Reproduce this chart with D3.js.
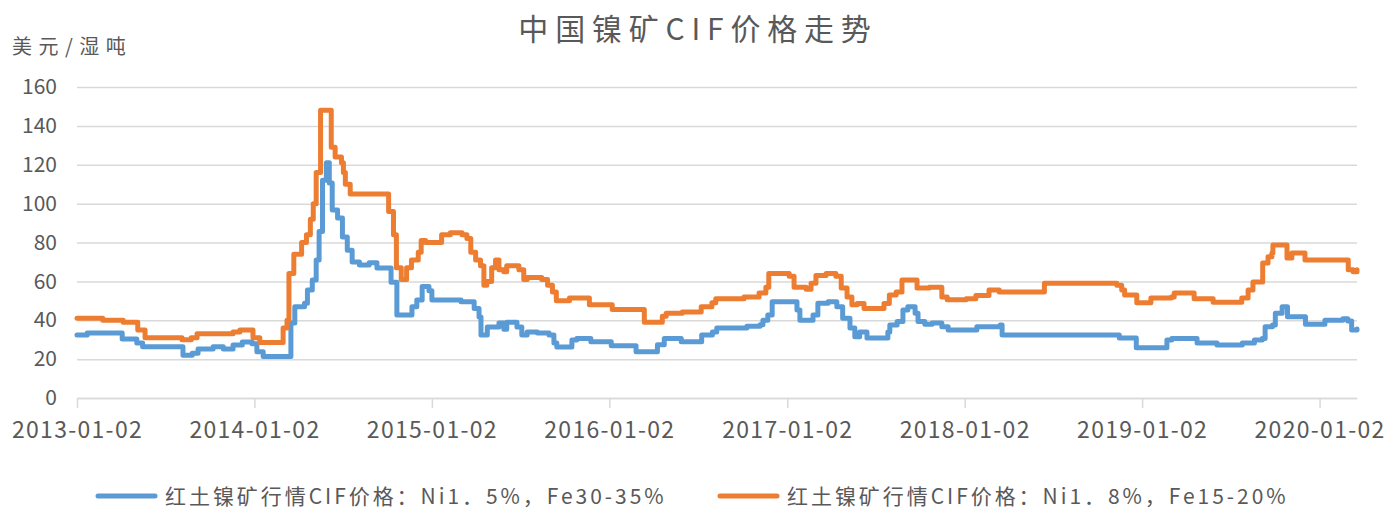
<!DOCTYPE html>
<html>
<head>
<meta charset="utf-8">
<script src="https://cdn.jsdelivr.net/npm/d3@7"></script>
<style>
	body { margin: 0; background: #fff; }
	svg text { font-family: "Noto Sans CJK SC", "Noto Sans", sans-serif; fill: #595959; }
</style>
</head>
<body>
<div id="viz"></div>
<script>
const WIDTH = 1390;
const HEIGHT = 509;
const MARGIN = { left: 77, right: 33, top: 87, bottom: 111 };
const BLUE = '#5b9bd5';
const ORANGE = '#ed7d31';
const GRID = '#d9d9d9';

const title = '中国镍矿CIF价格走势';
const unitLabel = '美元/湿吨';
const seriesNames = ['红土镍矿行情CIF价格：Ni1．5%，Fe30-35%', '红土镍矿行情CIF价格：Ni1．8%，Fe15-20%'];
const yTicks = [0, 20, 40, 60, 80, 100, 120, 140, 160];
const xTickLabels = ['2013-01-02', '2014-01-02', '2015-01-02', '2016-01-02', '2017-01-02', '2018-01-02', '2019-01-02', '2020-01-02'];
const xDomain = ['2013-01-02', '2020-03-19'];

// Ni1.5% Fe30-35%, change points
const blueDates = [
	'2013-01-02', '2013-01-23', '2013-04-05', '2013-05-05', '2013-05-17', '2013-08-08', '2013-08-27', '2013-09-08',
	'2013-10-09', '2013-10-30', '2013-11-19', '2013-12-08', '2013-12-28', '2014-01-07', '2014-01-20', '2014-03-18',
	'2014-03-26', '2014-04-15', '2014-04-21', '2014-05-01', '2014-05-09', '2014-05-15', '2014-05-22', '2014-05-30',
	'2014-06-05', '2014-06-11', '2014-06-22', '2014-07-02', '2014-07-12', '2014-07-22', '2014-08-06', '2014-08-26',
	'2014-09-11', '2014-10-10', '2014-10-22', '2014-11-22', '2014-12-02', '2014-12-13', '2014-12-27', '2015-01-02',
	'2015-03-03', '2015-03-30', '2015-04-09', '2015-04-13', '2015-04-26', '2015-05-20', '2015-05-30', '2015-06-05',
	'2015-06-26', '2015-07-06', '2015-07-17', '2015-08-07', '2015-08-31', '2015-09-10', '2015-09-16', '2015-10-17',
	'2015-10-27', '2015-11-25', '2016-01-06', '2016-02-26', '2016-04-10', '2016-04-24', '2016-05-29', '2016-07-10',
	'2016-08-01', '2016-08-10', '2016-10-11', '2016-11-07', '2016-11-13', '2016-11-23', '2016-12-02', '2017-01-22',
	'2017-01-28', '2017-02-24', '2017-03-06', '2017-03-27', '2017-04-14', '2017-04-26', '2017-05-11', '2017-05-21',
	'2017-05-31', '2017-06-15', '2017-07-28', '2017-08-01', '2017-08-16', '2017-08-28', '2017-09-07', '2017-09-22',
	'2017-09-28', '2017-10-12', '2017-10-27', '2017-11-16', '2017-11-29', '2018-01-27', '2018-03-16', '2018-03-20',
	'2018-11-16', '2018-12-21', '2019-02-22', '2019-03-04', '2019-04-25', '2019-06-05', '2019-07-27', '2019-08-21',
	'2019-09-06', '2019-09-12', '2019-09-27', '2019-10-03', '2019-10-17', '2019-10-28', '2019-12-04', '2020-01-13',
	'2020-02-19', '2020-02-29', '2020-03-08', '2020-03-19'
];
const blueValues = [
	32.4, 33.4, 30.4, 28.3, 26.4, 22, 23, 25.2,
	26.4, 25.2, 27.3, 28.8, 27.9, 23.8, 21.3, 38.6,
	47, 48.8, 55.6, 60.7, 71, 85.6, 112, 121,
	110.6, 96.7, 92.6, 82.8, 76, 70, 68.4, 69.6,
	66.9, 59.5, 42.7, 47, 50.4, 57.3, 55.2, 50.4,
	49.5, 46, 41.7, 32.4, 36.5, 38.6, 35.4, 39,
	36.5, 32.4, 34, 33.4, 32.4, 28.3, 26.2, 29.8,
	30.6, 29, 26.9, 23.8, 27.4, 30.6, 29, 32.4,
	34, 36, 36.9, 37.7, 40, 42.7, 49.5, 45.3,
	40, 42.7, 48.8, 49.5, 47, 41, 36, 31.5,
	34, 30.9, 34, 37.6, 39.3, 45.3, 47, 43.6,
	39.3, 38, 38.6, 36.7, 35, 36.7, 37.6, 32.4,
	30.9, 25.9, 29.8, 30.6, 28.3, 27.3, 28.3, 29.8,
	30.6, 36.7, 37.6, 43.6, 46.9, 41.8, 38, 40,
	40.8, 39.6, 35, 35.5
];

// Ni1.8% Fe15-20%, change points
const orangeDates = [
	'2013-01-02', '2013-02-24', '2013-04-07', '2013-05-07', '2013-05-22', '2013-08-06', '2013-08-25', '2013-09-06',
	'2013-11-19', '2013-12-03', '2013-12-30', '2014-01-13', '2014-03-02', '2014-03-10', '2014-03-14', '2014-03-24',
	'2014-04-09', '2014-04-19', '2014-04-27', '2014-05-03', '2014-05-09', '2014-05-18', '2014-06-09', '2014-06-17',
	'2014-06-30', '2014-07-04', '2014-07-08', '2014-07-18', '2014-10-05', '2014-10-15', '2014-10-21', '2014-10-31',
	'2014-11-11', '2014-11-21', '2014-12-05', '2014-12-11', '2014-12-20', '2015-01-22', '2015-02-09', '2015-03-05',
	'2015-03-15', '2015-03-23', '2015-04-02', '2015-04-12', '2015-04-19', '2015-04-25', '2015-05-05', '2015-05-13',
	'2015-05-20', '2015-05-30', '2015-06-05', '2015-06-30', '2015-07-10', '2015-07-17', '2015-08-16', '2015-08-28',
	'2015-09-07', '2015-09-15', '2015-10-12', '2015-11-22', '2016-01-08', '2016-03-14', '2016-04-20', '2016-04-28',
	'2016-05-31', '2016-07-09', '2016-07-31', '2016-08-08', '2016-10-05', '2016-11-05', '2016-11-19', '2016-11-25',
	'2017-01-06', '2017-01-16', '2017-02-10', '2017-02-20', '2017-03-02', '2017-03-23', '2017-04-12', '2017-04-23',
	'2017-05-05', '2017-05-15', '2017-05-26', '2017-06-09', '2017-07-20', '2017-07-31', '2017-08-14', '2017-08-26',
	'2017-09-26', '2017-10-21', '2017-11-16', '2017-11-27', '2018-01-05', '2018-01-25', '2018-02-21', '2018-03-14',
	'2018-06-15', '2018-11-11', '2018-11-21', '2018-11-27', '2018-12-22', '2019-01-20', '2019-03-03', '2019-03-09',
	'2019-04-19', '2019-05-28', '2019-07-26', '2019-08-08', '2019-08-18', '2019-09-07', '2019-09-18', '2019-09-26',
	'2019-09-28', '2019-10-27', '2019-11-06', '2019-12-03', '2020-03-01', '2020-03-11', '2020-03-19'
];
const orangeValues = [
	41, 40, 39, 35, 31, 30, 31, 33,
	34, 35, 31, 28.5, 36, 40, 64, 74,
	80, 84, 92, 100, 116, 148, 129, 124,
	121, 116, 110, 105, 96, 84, 67, 61,
	67, 71, 75, 81, 80, 84, 85, 84,
	82, 75, 71, 68, 58, 60, 67, 71,
	66, 65, 68, 66, 61, 62, 61, 58,
	54.5, 50, 51.5, 48, 45.5, 39, 42, 43.6,
	44.3, 47, 49, 51, 52, 54, 57, 64,
	62.6, 57, 56, 59, 63, 64, 62.6, 56.6,
	52, 48, 48.6, 46, 48.6, 53, 54.5, 60.7,
	56.6, 57, 52, 50.5, 51, 52.7, 55.5, 54.5,
	59, 58, 55.6, 53, 49, 51.4, 52, 54,
	51, 49.2, 51.4, 55.6, 59.7, 69.5, 72.7, 74.6,
	78.7, 72, 74.6, 71, 66, 65, 66
];

const parseDate = d3.timeParse('%Y-%m-%d');
const toPoints = (dates, values) => dates.map((d, i) => ({ date: parseDate(d), value: values[i] }));

const series = [
	{ name: seriesNames[0], color: BLUE, data: toPoints(blueDates, blueValues) },
	{ name: seriesNames[1], color: ORANGE, data: toPoints(orangeDates, orangeValues) }
];

const chartWidth = WIDTH - MARGIN.left - MARGIN.right;
const chartHeight = HEIGHT - MARGIN.top - MARGIN.bottom;

const svg = d3.select('#viz').append('svg')
	.attr('width', WIDTH)
	.attr('height', HEIGHT);

svg.append('text')
	.attr('x', WIDTH / 2 + 3)
	.attr('y', 40)
	.attr('text-anchor', 'middle')
	.style('font-size', '30px')
	.style('letter-spacing', '6.8px')
	.text(title);

svg.append('text')
	.attr('x', 12)
	.attr('y', 54)
	.style('font-size', '20px')
	.style('letter-spacing', '6.5px')
	.text(unitLabel);

const xScale = d3.scaleTime()
	.domain(xDomain.map(parseDate))
	.range([0, chartWidth]);

const yScale = d3.scaleLinear()
	.domain([0, 160])
	.range([chartHeight, 0]);

const container = svg.append('g')
	.attr('transform', 'translate(' + MARGIN.left + ',' + MARGIN.top + ')');

// gridlines + y labels
const yAxis = container.append('g')
	.attr('class', 'y axis')
	.call(d3.axisLeft(yScale).tickValues(yTicks).tickSize(-chartWidth).tickPadding(20));
yAxis.select('.domain').remove();
yAxis.selectAll('.tick line').attr('stroke', GRID).attr('stroke-width', 1.5);
yAxis.selectAll('.tick text').style('font-size', '21px').attr('fill', '#595959');

const xAxis = container.append('g')
	.attr('class', 'x axis')
	.attr('transform', 'translate(0,' + chartHeight + ')')
	.call(d3.axisBottom(xScale)
		.tickValues(xTickLabels.map(parseDate))
		.tickFormat(d3.timeFormat('%Y-%m-%d'))
		.tickSize(10)
		.tickSizeOuter(0)
		.tickPadding(14));
xAxis.select('.domain').attr('stroke', GRID).attr('stroke-width', 1.5);
xAxis.selectAll('.tick line').attr('stroke', GRID).attr('stroke-width', 1.5);
xAxis.selectAll('.tick text')
	.style('font-size', '23px')
	.style('letter-spacing', '1.3px')
	.attr('fill', '#595959');

const generateLine = d3.line()
	.x((d) => xScale(d.date))
	.y((d) => yScale(d.value))
	.curve(d3.curveStepAfter);

container.selectAll('.line')
	.data(series)
	.enter()
	.append('path')
	.attr('class', 'line')
	.attr('fill', 'none')
	.attr('stroke', (d) => d.color)
	.attr('stroke-width', 5)
	.attr('stroke-linejoin', 'round')
	.attr('stroke-linecap', 'round')
	.attr('d', (d) => generateLine(d.data));

// legend
const legend = svg.append('g').attr('class', 'legend');
const legendStarts = [98, 720];
series.forEach((s, i) => {
	const item = legend.append('g').attr('transform', 'translate(' + legendStarts[i] + ',496)');
	item.append('line')
		.attr('x1', 0)
		.attr('x2', 57)
		.attr('stroke', s.color)
		.attr('stroke-width', 5)
		.attr('stroke-linecap', 'round');
	item.append('text')
		.attr('x', 67)
		.attr('y', 8)
		.style('font-size', '21px')
		.style('letter-spacing', '2.95px')
		.text(s.name);
});
</script>
</body>
</html>
